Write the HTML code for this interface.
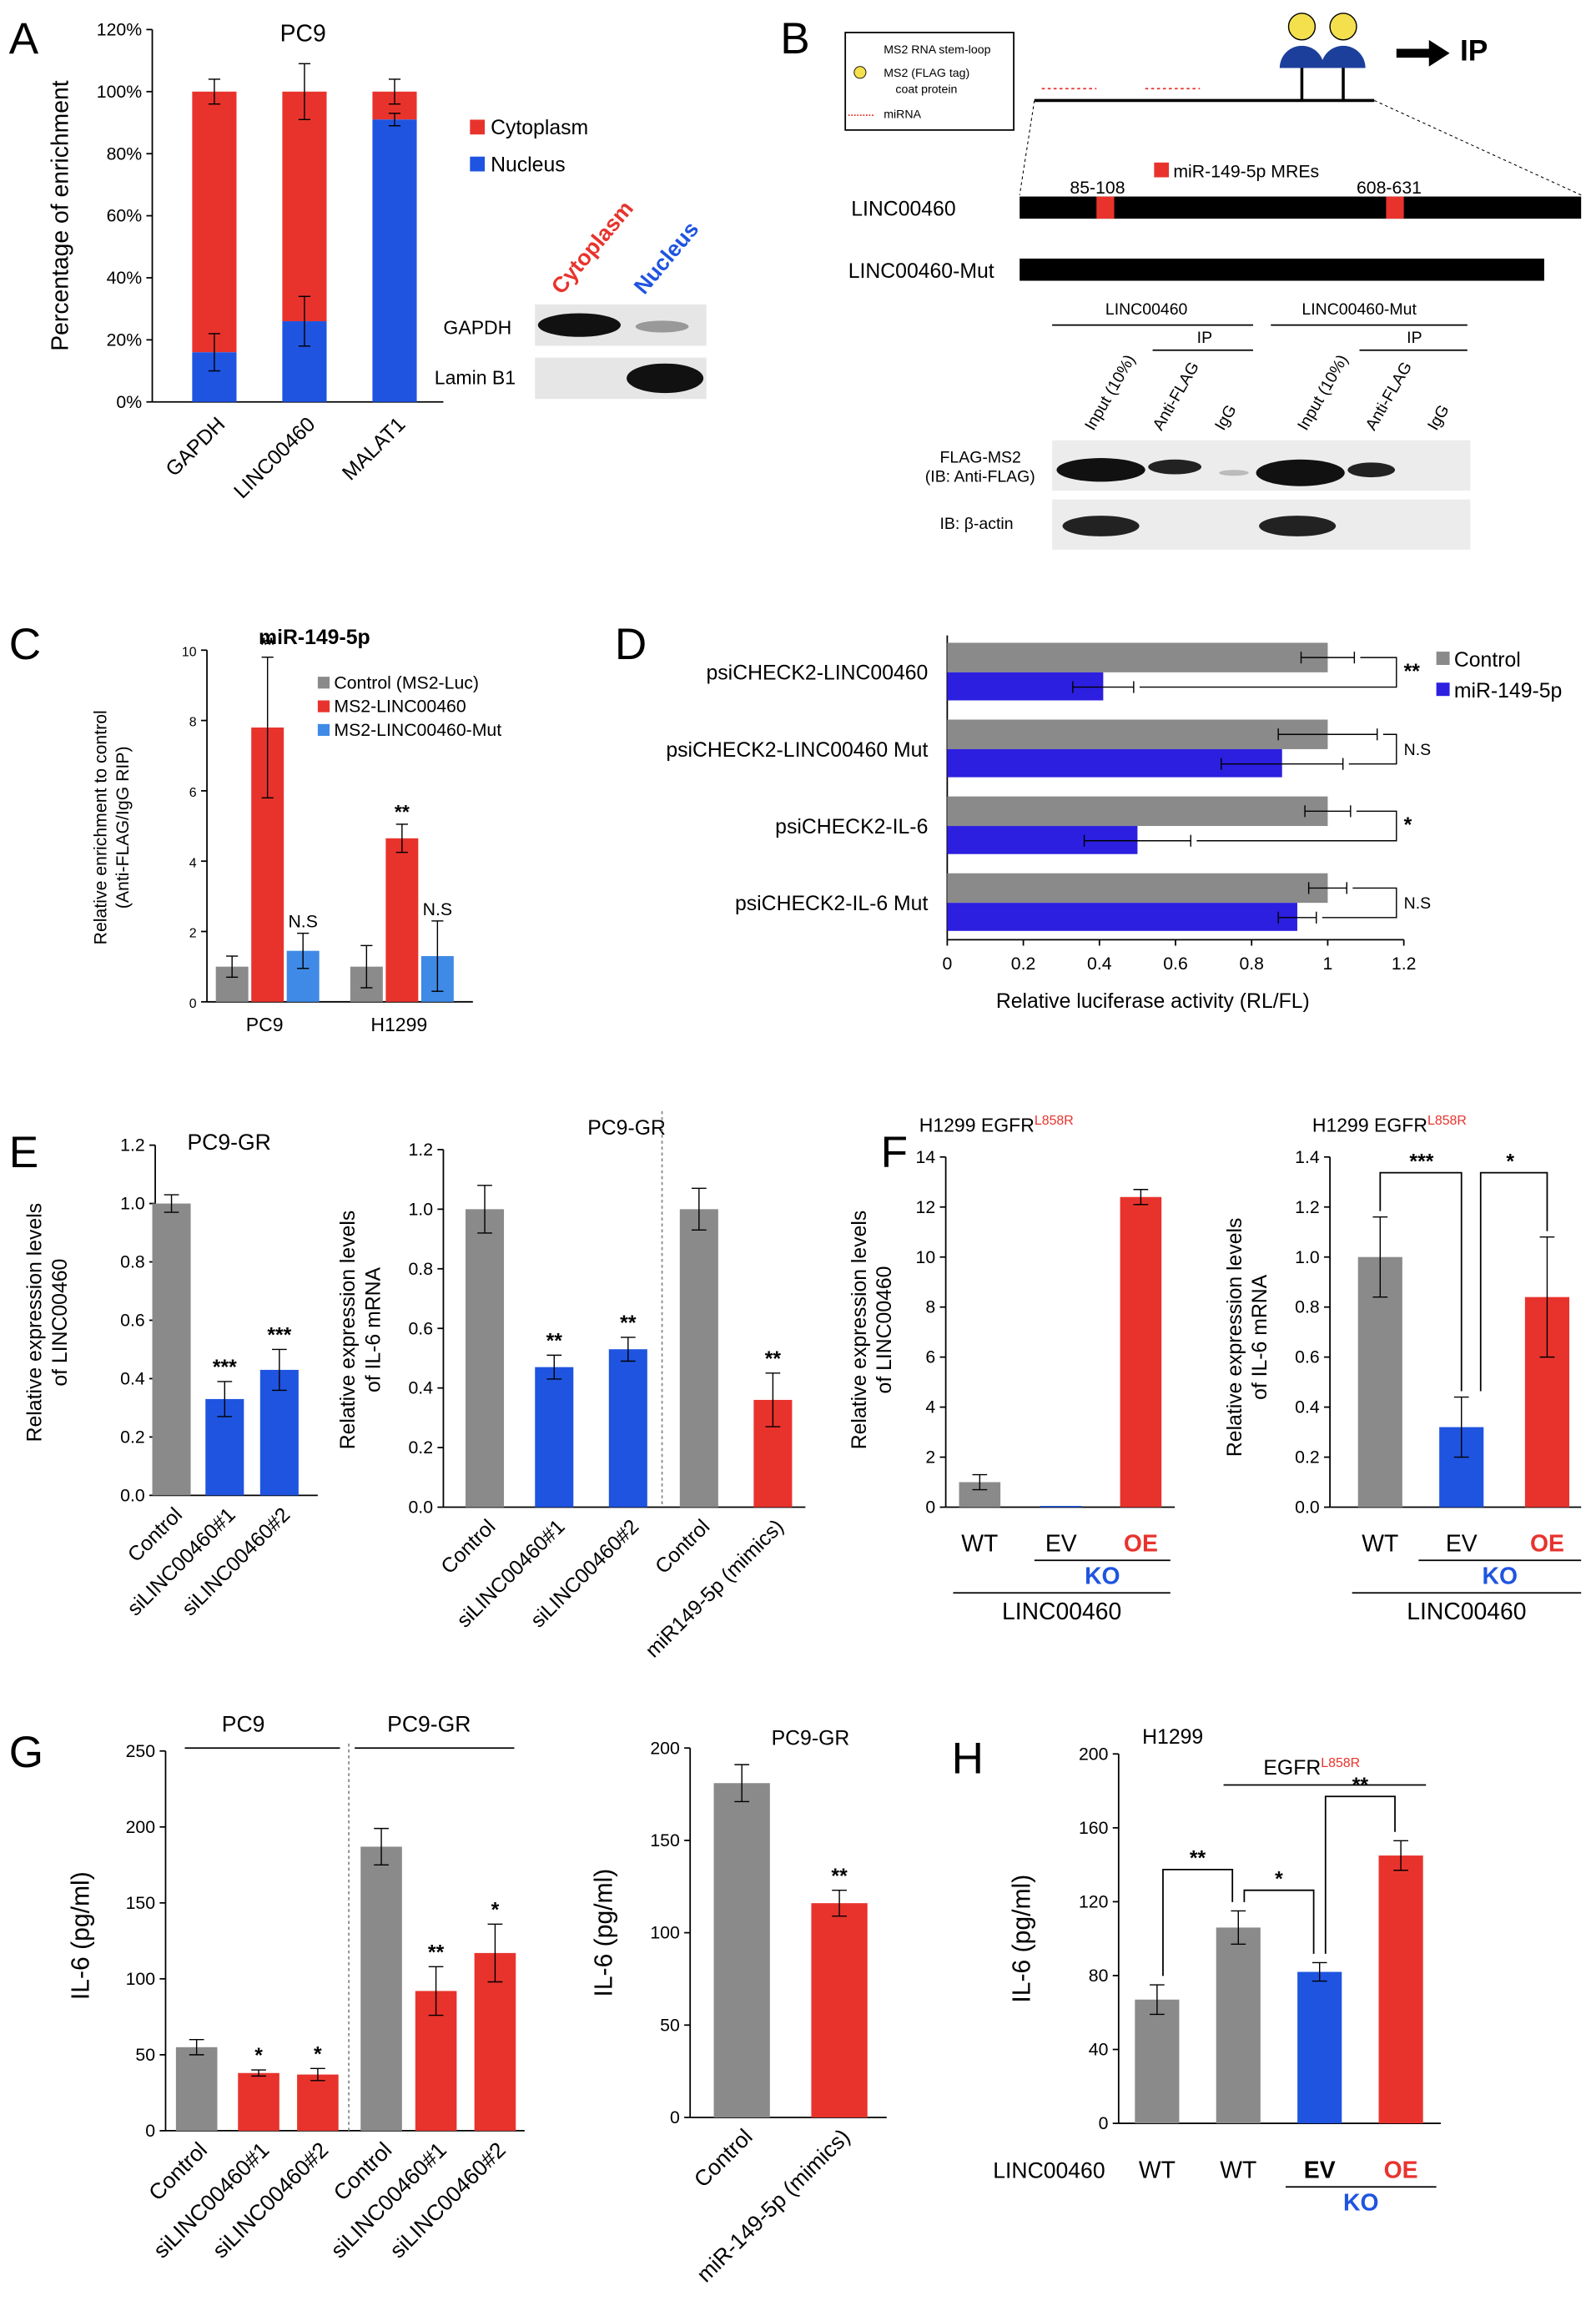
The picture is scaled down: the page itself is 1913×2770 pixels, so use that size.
<!DOCTYPE html>
<html><head><meta charset="utf-8"><style>
html,body{margin:0;padding:0;background:#fff}
svg{display:block;font-family:"Liberation Sans",Arial,sans-serif}
</style></head><body>
<svg id="fig" width="1913" height="2770" viewBox="0 0 1080 1564" xmlns="http://www.w3.org/2000/svg">
<g id="static" font-size="13">
<text x="6" y="36" font-size="30">A</text>
<text x="528" y="36" font-size="30">B</text>
<text x="6" y="446" font-size="30">C</text>
<text x="416" y="446" font-size="30">D</text>
<text x="6" y="790" font-size="30">E</text>
<text x="596" y="790" font-size="30">F</text>
<text x="6" y="1196" font-size="30">G</text>
<text x="644" y="1200" font-size="30">H</text>
<!-- A legend & blot -->
<rect x="318" y="81" width="10" height="10" fill="#e8332d"/>
<text x="332" y="91" font-size="14">Cytoplasm</text>
<rect x="318" y="106" width="10" height="10" fill="#1f54e0"/>
<text x="332" y="116" font-size="14">Nucleus</text>
<text x="380" y="200" font-size="15" font-weight="bold" fill="#e8332d" transform="rotate(-50 380 200)">Cytoplasm</text>
<text x="436" y="200" font-size="15" font-weight="bold" fill="#1f54e0" transform="rotate(-50 436 200)">Nucleus</text>
<text x="300" y="226" font-size="13">GAPDH</text>
<text x="294" y="260" font-size="13">Lamin B1</text>
<rect x="362" y="206" width="116" height="28" fill="#e6e6e6"/>
<ellipse cx="392" cy="220" rx="28" ry="8" fill="#111"/><ellipse cx="448" cy="221" rx="18" ry="4" fill="#999"/>
<rect x="362" y="242" width="116" height="28" fill="#e6e6e6"/>
<ellipse cx="450" cy="256" rx="26" ry="10" fill="#111"/>
<!-- B -->
<rect x="572" y="22" width="114" height="66" fill="#fff" stroke="#000" stroke-width="1"/>
<text x="598" y="36" font-size="8">MS2 RNA stem-loop</text>
<circle cx="582" cy="49" r="4" fill="#f4e04d" stroke="#000" stroke-width=".5"/><text x="598" y="52" font-size="8">MS2 (FLAG tag)</text>
<text x="606" y="63" font-size="8">coat protein</text><text x="598" y="80" font-size="8">miRNA</text>
<line x1="574" y1="78" x2="592" y2="78" stroke="#e8332d" stroke-dasharray="1 1"/>
<line x1="700" y1="68" x2="930" y2="68" stroke="#000" stroke-width="2"/>
<line x1="705" y1="60" x2="742" y2="60" stroke="#e8332d" stroke-dasharray="2 2"/>
<line x1="775" y1="60" x2="812" y2="60" stroke="#e8332d" stroke-dasharray="2 2"/>
<circle cx="881" cy="18" r="9" fill="#f4e04d" stroke="#000" stroke-width=".8"/><circle cx="909" cy="18" r="9" fill="#f4e04d" stroke="#000" stroke-width=".8"/>
<path d="M866 46 a15 15 0 0 1 30 0 Z M894 46 a15 15 0 0 1 30 0 Z" fill="#1c3f9c"/>
<line x1="881" y1="46" x2="881" y2="68" stroke="#000" stroke-width="2"/><line x1="909" y1="46" x2="909" y2="68" stroke="#000" stroke-width="2"/>
<path d="M945 33 h22 v-6 l14 9 -14 9 v-6 h-22 z" fill="#000"/>
<text x="988" y="41" font-size="20" font-weight="bold">IP</text>
<line x1="700" y1="68" x2="690" y2="132" stroke="#000" stroke-width=".6" stroke-dasharray="2 2"/><line x1="930" y1="68" x2="1070" y2="132" stroke="#000" stroke-width=".6" stroke-dasharray="2 2"/>
<rect x="781" y="110" width="10" height="10" fill="#e8332d"/><text x="794" y="120" font-size="12">miR-149-5p MREs</text>
<text x="724" y="131" font-size="12">85-108</text><text x="918" y="131" font-size="12">608-631</text>
<text x="576" y="146" font-size="14">LINC00460</text>
<rect x="690" y="133" width="380" height="15" fill="#000"/>
<rect x="742" y="133" width="12" height="15" fill="#e8332d"/><rect x="938" y="133" width="12" height="15" fill="#e8332d"/>
<text x="574" y="188" font-size="14">LINC00460-Mut</text>
<rect x="690" y="175" width="355" height="15" fill="#000"/>
<text x="748" y="213" font-size="11">LINC00460</text><line x1="712" y1="220" x2="848" y2="220" stroke="#000"/>
<text x="881" y="213" font-size="11">LINC00460-Mut</text><line x1="860" y1="220" x2="993" y2="220" stroke="#000"/>
<text x="810" y="232" font-size="11">IP</text><line x1="780" y1="237" x2="848" y2="237" stroke="#000"/>
<text x="952" y="232" font-size="11">IP</text><line x1="920" y1="237" x2="993" y2="237" stroke="#000"/>
<text x="740" y="292" font-size="11" transform="rotate(-60 740 292)">Input (10%)</text>
<text x="786" y="292" font-size="11" transform="rotate(-60 786 292)">Anti-FLAG</text>
<text x="828" y="292" font-size="11" transform="rotate(-60 828 292)">IgG</text>
<text x="884" y="292" font-size="11" transform="rotate(-60 884 292)">Input (10%)</text>
<text x="930" y="292" font-size="11" transform="rotate(-60 930 292)">Anti-FLAG</text>
<text x="972" y="292" font-size="11" transform="rotate(-60 972 292)">IgG</text>
<text x="636" y="313" font-size="11">FLAG-MS2</text><text x="626" y="326" font-size="11">(IB: Anti-FLAG)</text>
<text x="636" y="358" font-size="11">IB: β-actin</text>
<rect x="712" y="298" width="283" height="34" fill="#ececec"/>
<ellipse cx="745" cy="318" rx="30" ry="8" fill="#111"/><ellipse cx="795" cy="316" rx="18" ry="5" fill="#222"/><ellipse cx="835" cy="320" rx="10" ry="2" fill="#bbb"/>
<ellipse cx="880" cy="320" rx="30" ry="9" fill="#111"/><ellipse cx="928" cy="318" rx="16" ry="5" fill="#222"/>
<rect x="712" y="338" width="283" height="34" fill="#ececec"/>
<ellipse cx="745" cy="356" rx="26" ry="7" fill="#222"/><ellipse cx="878" cy="356" rx="26" ry="7" fill="#222"/>
<!-- C legend -->
<text x="175" y="436" font-size="14" font-weight="bold">miR-149-5p</text>
<rect x="215" y="458" width="8" height="8" fill="#8a8a8a"/><text x="226" y="466" font-size="12">Control (MS2-Luc)</text>
<rect x="215" y="474" width="8" height="8" fill="#e8332d"/><text x="226" y="482" font-size="12">MS2-LINC00460</text>
<rect x="215" y="490" width="8" height="8" fill="#3f8ae6"/><text x="226" y="498" font-size="12">MS2-LINC00460-Mut</text>
<!-- D legend -->
<rect x="972" y="441" width="9" height="9" fill="#8a8a8a"/><text x="984" y="451" font-size="14">Control</text>
<rect x="972" y="462" width="9" height="9" fill="#2c1fe0"/><text x="984" y="472" font-size="14">miR-149-5p</text>
<text x="674" y="682" font-size="14">Relative luciferase activity (RL/FL)</text>
<!-- F/H annotations -->
<text x="622" y="766" font-size="13">H1299 EGFR<tspan font-size="9" dy="-5" fill="#e8332d">L858R</tspan></text>
<text x="888" y="766" font-size="13">H1299 EGFR<tspan font-size="9" dy="-5" fill="#e8332d">L858R</tspan></text>
<text x="522" y="1181" font-size="14">PC9-GR</text>
<text x="150" y="1172" font-size="15">PC9</text><line x1="125" y1="1183" x2="230" y2="1183" stroke="#000"/>
<text x="262" y="1172" font-size="15">PC9-GR</text><line x1="240" y1="1183" x2="348" y2="1183" stroke="#000"/>
<text x="773" y="1180" font-size="14">H1299</text>
<text x="855" y="1201" font-size="14">EGFR<tspan font-size="9" dy="-5" fill="#e8332d">L858R</tspan></text>
<line x1="828" y1="1208" x2="965" y2="1208" stroke="#000"/>
<text x="672" y="1474" font-size="15">LINC00460</text>
</g>
<g id="charts"></g>
</svg>
<script>
// ===== Panel A data =====
const aCats = ['GAPDH','LINC00460','MALAT1'];
const aNucleus = [16, 26, 91];
const aNucErr = [6, 8, 2];
const aCytErr = [4, 9, 4];
// ===== Panel C data =====
const cGroups = ['PC9','H1299'];
const cControl = [1.0, 1.0];
const cLinc = [7.8, 4.65];
const cMut = [1.45, 1.3];
const cErrControl = [0.3, 0.6];
const cErrLinc = [2.0, 0.4];
const cErrMut = [0.5, 1.0];
const cSig = ['**','**'];
const cMutSig = ['N.S','N.S'];
// ===== Panel D data =====
const dCats = ['psiCHECK2-LINC00460','psiCHECK2-LINC00460 Mut','psiCHECK2-IL-6','psiCHECK2-IL-6 Mut'];
const dControl = [1, 1, 1, 1];
const dMir = [0.41, 0.88, 0.50, 0.92];
const dErrControl = [0.07, 0.13, 0.06, 0.05];
const dErrMir = [0.08, 0.16, 0.14, 0.05];
const dSig = ['**','N.S','*','N.S'];
const dTicks = [0, 0.2, 0.4, 0.6, 0.8, 1, 1.2];
// ===== Panel E data =====
const e1Cats = ['Control','siLINC00460#1','siLINC00460#2'];
const e1Vals = [1.0, 0.33, 0.43];
const e1Err = [0.03, 0.06, 0.07];
const e1Sig = ['','***','***'];
const e2Cats = ['Control','siLINC00460#1','siLINC00460#2','Control','miR149-5p (mimics)'];
const e2Vals = [1.0, 0.47, 0.53, 1.0, 0.36];
const e2Err = [0.08, 0.04, 0.04, 0.07, 0.09];
const e2Sig = ['','**','**','','**'];
const eTicks = ['0.0','0.2','0.4','0.6','0.8','1.0','1.2'];
// ===== Panel F data =====
const f1Vals = [1.0, 0.05, 12.4];
const f1Err = [0.3, 0, 0.3];
const f1Ticks = [0,2,4,6,8,10,12,14];
const f2Vals = [1.0, 0.32, 0.84];
const f2Err = [0.16, 0.12, 0.24];
const f2Ticks = ['0.0','0.2','0.4','0.6','0.8','1.0','1.2','1.4'];
// ===== Panel G data =====
const g1Cats = ['Control','siLINC00460#1','siLINC00460#2','Control','siLINC00460#1','siLINC00460#2'];
const g1Vals = [55, 38, 37, 187, 92, 117];
const g1Err = [5, 2, 4, 12, 16, 19];
const g1Sig = ['','*','*','','**','*'];
const g1Ticks = [0,50,100,150,200,250];
const g2Cats = ['Control','miR-149-5p (mimics)'];
const g2Vals = [181, 116];
const g2Err = [10, 7];
const g2Ticks = [0,50,100,150,200];
// ===== Panel H data =====
const hVals = [67, 106, 82, 145];
const hErr = [8, 9, 5, 8];
const hTicks = [0,40,80,120,160,200];

const NS='http://www.w3.org/2000/svg';
const root=document.getElementById('charts');
function mk(tag,attrs,parent){const e=document.createElementNS(NS,tag);for(const k in attrs)e.setAttribute(k,attrs[k]);(parent||root).appendChild(e);return e;}
function txt(x,y,s,size,extra,parent){const e=mk('text',Object.assign({x:x,y:y,'font-size':size},extra||{}),parent);e.textContent=s;return e;}
function lin(v0,v1,p0,p1){return v=>p0+(v-v0)*(p1-p0)/(v1-v0);}
function errbar(x,y1,y2,w){mk('line',{x1:x,y1:y1,x2:x,y2:y2,stroke:'#000','stroke-width':.8});mk('line',{x1:x-w,y1:y1,x2:x+w,y2:y1,stroke:'#000','stroke-width':.8});mk('line',{x1:x-w,y1:y2,x2:x+w,y2:y2,stroke:'#000','stroke-width':.8});}
function yaxis(x,y,ticks,labels,size,name){
  const ax=mk('line',{x1:x,y1:y(ticks[0]),x2:x,y2:y(ticks[ticks.length-1]),stroke:'#000'});
  
  
  ticks.forEach((t,i)=>{mk('line',{x1:x-4,y1:y(t),x2:x,y2:y(t),stroke:'#000'});
    const l=txt(x-7,y(t)+4,labels[i],size,{'text-anchor':'end'});
    
    });
}
function bar(x,w,y0,y1,fill,name){const r=mk('rect',{x:x-w/2,y:Math.min(y0,y1),width:w,height:Math.abs(y1-y0),fill:fill});
  
  return r;}
function vtitle(x,y,lines,size){lines.forEach((s,i)=>{txt(x+i*(size+3),y,s,size,{'text-anchor':'middle',transform:`rotate(-90 ${x+i*(size+3)} ${y})`});});}
function rotLabel(x,y,s,size,ang){txt(x,y,s,size,{'text-anchor':'end',transform:`rotate(${ang} ${x} ${y})`});}

// ===== A =====
(function(){const y=lin(0,120,272,20);const ticks=[0,20,40,60,80,100,120];
 yaxis(103,y,ticks,ticks.map(t=>t+'%'),12,'a-y-axis');
 mk('line',{x1:103,y1:272,x2:300,y2:272,stroke:'#000'});
 txt(205,28,'PC9',16,{'text-anchor':'middle'});
 vtitle(46,146,['Percentage of enrichment'],16);
 const xs=[145,206,267];
 aCats.forEach((c,i)=>{bar(xs[i],30,y(aNucleus[i]),y(100),'#e8332d','bar-cytoplasm-'+c);bar(xs[i],30,y(0),y(aNucleus[i]),'#1f54e0','bar-nucleus-'+c);
  errbar(xs[i],y(aNucleus[i]-aNucErr[i]),y(aNucleus[i]+aNucErr[i]),4);errbar(xs[i],y(100-aCytErr[i]),y(100+aCytErr[i]),4);
  rotLabel(xs[i]+8,288,c,14,-45);});
})();
// ===== C =====
(function(){const y=lin(0,10,678,440);const ticks=[0,2,4,6,8,10];
 yaxis(140,y,ticks,ticks.map(String),9,'c-y-axis');
 mk('line',{x1:140,y1:678,x2:320,y2:678,stroke:'#000'});
 vtitle(72,560,['Relative enrichment to control','(Anti-FLAG/IgG RIP)'],12);
 const cx=[181,272];
 cGroups.forEach((g,i)=>{const s=[[cControl,cErrControl,'#8a8a8a'],[cLinc,cErrLinc,'#e8332d'],[cMut,cErrMut,'#3f8ae6']];
  s.forEach((q,j)=>{const x=cx[i]+(j-1)*24;bar(x,22,y(0),y(q[0][i]),q[2],'bar-c-'+g+'-'+j);errbar(x,y(q[0][i]-q[1][i]),y(q[0][i]+q[1][i]),4);});
  txt(cx[i],y(cLinc[i]+cErrLinc[i])-4,cSig[i],13,{'text-anchor':'middle','font-weight':'bold'});
  txt(cx[i]+24,y(cMut[i]+cErrMut[i])-4,cMutSig[i],12,{'text-anchor':'middle'});
  txt(cx[i]-2,698,g,13,{'text-anchor':'middle'});});
})();
// ===== D =====
(function(){const x=lin(0,1.2,641,950);const yc=[455,507,559,611];
 mk('line',{x1:641,y1:430,x2:641,y2:636,stroke:'#000'});mk('line',{x1:641,y1:636,x2:950,y2:636,stroke:'#000'});
 dTicks.forEach(t=>{mk('line',{x1:x(t),y1:636,x2:x(t),y2:640,stroke:'#000'});txt(x(t),656,String(t),12,{'text-anchor':'middle'});});
 dCats.forEach((c,i)=>{const r1=mk('rect',{x:641,y:yc[i]-20,width:x(dControl[i])-641,height:20,fill:'#8a8a8a'});
  
  
  const r2=mk('rect',{x:641,y:yc[i],width:x(dMir[i])-641,height:19,fill:'#2c1fe0'});
  
  
  [[dControl,dErrControl,yc[i]-10],[dMir,dErrMir,yc[i]+10]].forEach(q=>{const a=x(q[0][i]-q[1][i]),b=x(q[0][i]+q[1][i]);
   mk('line',{x1:a,y1:q[2],x2:b,y2:q[2],stroke:'#000','stroke-width':.8});mk('line',{x1:a,y1:q[2]-4,x2:a,y2:q[2]+4,stroke:'#000','stroke-width':.8});mk('line',{x1:b,y1:q[2]-4,x2:b,y2:q[2]+4,stroke:'#000','stroke-width':.8});});
  txt(628,yc[i]+5,c,14,{'text-anchor':'end'});
  const bx=945,top=yc[i]-10,bot=yc[i]+10;mk('path',{d:`M${x(dControl[i]+dErrControl[i])+4} ${top} H${bx} V${bot} H${x(dMir[i]+dErrMir[i])+4}`,fill:'none',stroke:'#000','stroke-width':.8});
  txt(bx+5,yc[i]+4,dSig[i],dSig[i]=='N.S'?11:14,{'font-weight':dSig[i]=='N.S'?'normal':'bold'});});
})();
// ===== generic vertical chart =====
function vchart(o){const y=lin(o.t0,o.t1,o.y0,o.y1);
 yaxis(o.ax,y,o.ticks,o.tickLabels,o.ts,o.name+'-y-axis');
 mk('line',{x1:o.ax,y1:o.y0,x2:o.axEnd,y2:o.y0,stroke:'#000'});
 o.vals.forEach((v,i)=>{bar(o.xs[i],o.w,y(0),y(v),o.colors[i],o.name+'-bar-'+i);if(o.err[i])errbar(o.xs[i],y(v-o.err[i]),y(v+o.err[i]),5);
  if(o.sig&&o.sig[i])txt(o.xs[i],y(v+o.err[i])-5,o.sig[i],14,{'text-anchor':'middle','font-weight':'bold'});
  if(o.cats)rotLabel(o.xs[i]+8,o.y0+14,o.cats[i],o.cs||14,-45);});
 return y;}
const G='#8a8a8a',R='#e8332d',B='#1f54e0';
vchart({name:'e1',ax:105,axEnd:215,y0:1012,y1:775,t0:0,t1:1.2,ticks:[0,.2,.4,.6,.8,1,1.2],tickLabels:eTicks,ts:12,xs:[116,152,189],w:26,vals:e1Vals,err:e1Err,sig:e1Sig,colors:[G,B,B],cats:e1Cats});
txt(155,778,'PC9-GR',15,{'text-anchor':'middle'});vtitle(28,895,['Relative expression levels','of LINC00460'],14);
vchart({name:'e2',ax:300,axEnd:545,y0:1020,y1:778,t0:0,t1:1.2,ticks:[0,.2,.4,.6,.8,1,1.2],tickLabels:eTicks,ts:12,xs:[328,375,425,473,523],w:26,vals:e2Vals,err:e2Err,sig:e2Sig,colors:[G,B,B,G,R],cats:e2Cats});
txt(424,768,'PC9-GR',14,{'text-anchor':'middle'});mk('line',{x1:448,y1:752,x2:448,y2:1020,stroke:'#888','stroke-dasharray':'2 2'});
vtitle(240,900,['Relative expression levels','of IL-6 mRNA'],14);
vchart({name:'f1',ax:640,axEnd:795,y0:1020,y1:783,t0:0,t1:14,ticks:f1Ticks,tickLabels:f1Ticks.map(String),ts:12,xs:[663,718,772],w:28,vals:f1Vals,err:f1Err,colors:[G,B,R]});
vtitle(586,900,['Relative expression levels','of LINC00460'],14);
vchart({name:'f2',ax:900,axEnd:1070,y0:1020,y1:783,t0:0,t1:1.4,ticks:[0,.2,.4,.6,.8,1,1.2,1.4],tickLabels:f2Ticks,ts:12,xs:[934,989,1047],w:30,vals:f2Vals,err:f2Err,colors:[G,B,R]});
vtitle(840,905,['Relative expression levels','of IL-6 mRNA'],14);
[[630,'WT','#000',663],[690,'EV','#000',718],[750,'OE',R,772],[920,'WT','#000',934],[976,'EV','#000',989],[1030,'OE',R,1047]].forEach(a=>txt(a[3],1050,a[1],16,{'text-anchor':'middle',fill:a[2],'font-weight':a[1]=='OE'?'bold':'normal'}));
[[700,792],[960,1070]].forEach(a=>{mk('line',{x1:a[0],y1:1056,x2:a[1],y2:1056,stroke:'#000'});txt((a[0]+a[1])/2,1072,'KO',16,{'text-anchor':'middle',fill:B,'font-weight':'bold'});});
[[645,792],[915,1070]].forEach(a=>{mk('line',{x1:a[0],y1:1078,x2:a[1],y2:1078,stroke:'#000'});txt((a[0]+a[1])/2,1096,'LINC00460',16,{'text-anchor':'middle'});});
(function(){const y=lin(0,1.4,1020,783);const by=y(f2Vals[0]+f2Err[0])-30;
 mk('path',{d:`M934 ${y(f2Vals[0]+f2Err[0])-4} V${by} H989 V${y(f2Vals[1]+f2Err[1])-4}`,fill:'none',stroke:'#000'});txt(962,by-3,'***',14,{'text-anchor':'middle','font-weight':'bold'});
 mk('path',{d:`M1002 ${y(f2Vals[1]+f2Err[1])-4} V${by} H1047 V${y(f2Vals[2]+f2Err[2])-4}`,fill:'none',stroke:'#000'});txt(1022,by-3,'*',14,{'text-anchor':'middle','font-weight':'bold'});})();
vchart({name:'g1',ax:112,axEnd:355,y0:1442,y1:1185,t0:0,t1:250,ticks:g1Ticks,tickLabels:g1Ticks.map(String),ts:12,xs:[133,175,215,258,295,335],w:28,vals:g1Vals,err:g1Err,sig:g1Sig,colors:[G,R,R,G,R,R],cats:g1Cats,cs:15});
mk('line',{x1:236,y1:1180,x2:236,y2:1442,stroke:'#888','stroke-dasharray':'2 2'});
vtitle(60,1310,['IL-6 (pg/ml)'],17);
vchart({name:'g2',ax:467,axEnd:600,y0:1433,y1:1183,t0:0,t1:200,ticks:g2Ticks,tickLabels:g2Ticks.map(String),ts:12,xs:[502,568],w:38,vals:g2Vals,err:g2Err,sig:['','**'],colors:[G,R],cats:g2Cats,cs:15});
vtitle(414,1308,['IL-6 (pg/ml)'],17);
const hy=vchart({name:'h',ax:757,axEnd:975,y0:1437,y1:1187,t0:0,t1:200,ticks:hTicks,tickLabels:hTicks.map(String),ts:12,xs:[783,838,893,948],w:30,vals:hVals,err:hErr,colors:[G,G,B,R]});
vtitle(697,1312,['IL-6 (pg/ml)'],17);
[[783,'WT','#000'],[838,'WT','#000'],[893,'EV','#000'],[948,'OE',R]].forEach(a=>txt(a[0],1474,a[1],16,{'text-anchor':'middle',fill:a[2],'font-weight':(a[1]=='EV'||a[1]=='OE')?'bold':'normal'}));
mk('line',{x1:870,y1:1480,x2:972,y2:1480,stroke:'#000'});txt(921,1496,'KO',16,{'text-anchor':'middle',fill:B,'font-weight':'bold'});
[[0,1,'**',28],[1,2,'*',14],[2,3,'**',30]].forEach(s=>{const xs=[783,838,893,948];const top=Math.min(hy(hVals[s[0]]+hErr[s[0]]),hy(hVals[s[1]]+hErr[s[1]]))-s[3];
 mk('path',{d:`M${xs[s[0]]+4} ${hy(hVals[s[0]]+hErr[s[0]])-6} V${top} H${xs[s[1]]-4} V${hy(hVals[s[1]]+hErr[s[1]])-6}`,fill:'none',stroke:'#000'});
 txt((xs[s[0]]+xs[s[1]])/2,top-3,s[2],14,{'text-anchor':'middle','font-weight':'bold'});});
</script>
</body></html>
